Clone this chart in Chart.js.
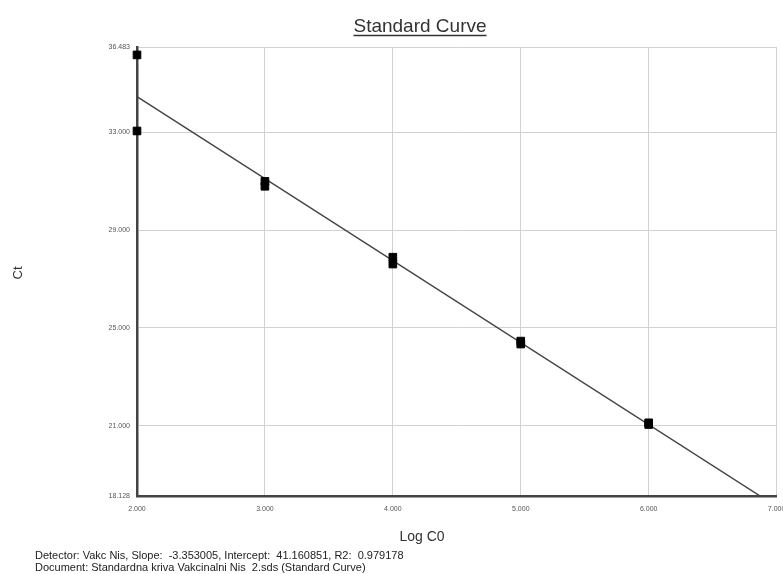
<!DOCTYPE html>
<html>
<head>
<meta charset="utf-8">
<title>Standard Curve</title>
<script src="https://cdn.jsdelivr.net/npm/chart.js@4.4.1/dist/chart.umd.min.js"></script>
<style>
    html, body { margin: 0; padding: 0; background: #fff; }
    #wrap { width: 783px; height: 574px; }
</style>
</head>
<body>
<div id="wrap"><canvas id="curveChart" width="783" height="574"></canvas></div>
<script>
// sample points (Log C0 vs Ct)
const sampleLogC0 = [2, 2, 3, 3, 4, 4, 5, 5, 6, 6];
const sampleCt = [36.16, 33.05, 30.99, 30.79, 27.89, 27.61, 24.46, 24.34, 21.12, 21.05];

// fitted line end points
const fitLogC0 = [2, 7];
const fitCt = [34.455, 17.695];

// axis ticks
const yTicks = [18.128, 21, 25, 29, 33, 36.483];
const xTicks = [2, 3, 4, 5, 6, 7];

const chartTitle = 'Standard Curve';
const xTitle = 'Log C0';
const yTitle = 'Ct';
const footLines = [
    'Detector: Vakc Nis, Slope:  -3.353005, Intercept:  41.160851, R2:  0.979178',
    'Document: Standardna kriva Vakcinalni Nis  2.sds (Standard Curve)'
];

const fontFamily = "'Liberation Sans', Arial, sans-serif";

// draws the underlined title, axis titles and the footnote
const textPlugin = {
    id: 'textPlugin',
    afterDraw(chart) {
        const ctx = chart.ctx;
        ctx.save();

        // title
        ctx.fillStyle = '#333';
        ctx.font = '19px ' + fontFamily;
        ctx.textAlign = 'center';
        ctx.textBaseline = 'alphabetic';
        ctx.fillText(chartTitle, 420, 32);
        const w = ctx.measureText(chartTitle).width;
        ctx.strokeStyle = '#333';
        ctx.lineWidth = 1.3;
        ctx.beginPath();
        ctx.moveTo(420 - w / 2, 35.5);
        ctx.lineTo(420 + w / 2, 35.5);
        ctx.stroke();

        // x title
        ctx.font = '14px ' + fontFamily;
        ctx.textBaseline = 'middle';
        ctx.fillText(xTitle, 422, 537);

        // y title
        ctx.save();
        ctx.translate(18, 273);
        ctx.rotate(-Math.PI / 2);
        ctx.font = '13px ' + fontFamily;
        ctx.fillText(yTitle, 0, 0);
        ctx.restore();

        // footnote
        ctx.font = '11px ' + fontFamily;
        ctx.textAlign = 'left';
        ctx.fillStyle = '#222';
        ctx.fillText(footLines[0], 35, 556);
        ctx.fillText(footLines[1], 35, 568);

        ctx.restore();
    }
};

const ctx = document.getElementById('curveChart').getContext('2d');
new Chart(ctx, {
    type: 'scatter',
    data: {
        datasets: [{
            label: 'Samples',
            data: sampleLogC0.map((x, i) => ({ x: x, y: sampleCt[i] })),
            pointStyle: 'rect',
            pointRadius: 5.4,
            pointBackgroundColor: '#000',
            pointBorderColor: '#000',
            pointBorderWidth: 1,
            clip: false
        }, {
            label: 'Fit',
            data: fitLogC0.map((x, i) => ({ x: x, y: fitCt[i] })),
            showLine: true,
            pointRadius: 0,
            borderColor: '#444',
            borderWidth: 1.4
        }]
    },
    options: {
        responsive: false,
        animation: false,
        devicePixelRatio: 1,
        layout: {
            padding: { top: 47, right: 6, left: 0, bottom: 0 }
        },
        plugins: {
            legend: { display: false },
            tooltip: { enabled: false }
        },
        scales: {
            x: {
                type: 'linear',
                min: 2,
                max: 7,
                afterBuildTicks: scale => {
                    scale.ticks = xTicks.map(v => ({ value: v }));
                },
                afterFit: scale => {
                    scale.height = 78;
                    scale.paddingLeft = 0;
                    scale.paddingRight = 0;
                },
                ticks: {
                    maxRotation: 0,
                    autoSkip: false,
                    padding: 9,
                    color: '#555',
                    font: { family: fontFamily, size: 7 },
                    callback: v => Number(v).toFixed(3)
                },
                grid: {
                    color: '#d2d2d2',
                    lineWidth: 1,
                    drawTicks: false
                },
                border: {
                    color: '#444',
                    width: 2.5
                }
            },
            y: {
                type: 'linear',
                min: 18.128,
                max: 36.483,
                afterBuildTicks: scale => {
                    scale.ticks = yTicks.map(v => ({ value: v }));
                },
                afterFit: scale => {
                    scale.width = 137;
                    scale.paddingTop = 0;
                    scale.paddingBottom = 0;
                },
                ticks: {
                    autoSkip: false,
                    padding: 7,
                    color: '#555',
                    font: { family: fontFamily, size: 7 },
                    callback: v => Number(v).toFixed(3)
                },
                grid: {
                    color: '#d2d2d2',
                    lineWidth: 1,
                    drawTicks: false
                },
                border: {
                    color: '#444',
                    width: 2.5
                }
            }
        }
    },
    plugins: [textPlugin]
});
</script>
</body>
</html>
